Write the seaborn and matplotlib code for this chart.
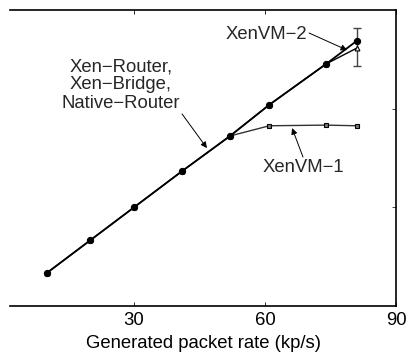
import matplotlib
matplotlib.use("Agg")
import matplotlib.pyplot as plt
import seaborn as sns
import numpy as np

# ---- data ----
rate = [10, 20, 30, 41, 52, 61, 74, 81]
native_y = [10, 20, 30, 41, 51.7, 61.2, 73.6, 80.6]
vm1_x = [52, 61, 74, 81]
vm1_y = [51.7, 54.8, 55.0, 54.8]
vm2_x = [10, 20, 30, 41, 52, 61, 74, 81]
vm2_y = [10, 20, 30, 41, 51.7, 61.2, 73.6, 78.4]
vm2_err_x = [81]
vm2_err_y = [78.7]
vm2_err = [5.8]
xticks = [30, 60, 90]
xlabel = "Generated packet rate (kp/s)"

sns.set_theme(style="white")
plt.rcParams['font.family'] = ['Liberation Sans', 'DejaVu Sans']

fig = plt.figure(figsize=(4.08, 3.56), dpi=100)
ax = fig.add_axes([10/408, 50/356, 386/408, 296/356])

# error bar for XenVM-2
ax.errorbar(vm2_err_x, vm2_err_y, yerr=vm2_err, fmt='none', ecolor='#444444',
            elinewidth=1.0, capsize=3, capthick=1.0, zorder=2)

sns.lineplot(x=vm1_x, y=vm1_y, ax=ax, color='#333333', lw=1.0, marker='s',
             markersize=3.5, markerfacecolor='#777777', markeredgecolor='black',
             markeredgewidth=0.8, zorder=3)
sns.lineplot(x=vm2_x, y=vm2_y, ax=ax, color='black', lw=1.0, marker='^',
             markersize=3.5, markerfacecolor='white', markeredgecolor='black',
             markeredgewidth=0.8, zorder=3)
sns.lineplot(x=rate, y=native_y, ax=ax, color='black', lw=1.3, marker='o',
             markersize=4.5, markerfacecolor='black', markeredgecolor='black',
             zorder=4)

ax.set_xlim(1.6, 90)
ax.set_ylim(0, 90)
ax.set_xticks(xticks)
ax.set_xticklabels([str(t) for t in xticks])
ax.set_yticks([30, 60])
ax.tick_params(axis='x', which='both', direction='in', length=3, width=0.6,
               top=True, bottom=True, labelsize=13.3, pad=4, colors='black')
ax.tick_params(axis='y', which='both', direction='in', length=3, width=0.6,
               left=False, right=True, labelleft=False, labelright=False)
for s in ['top', 'bottom', 'right']:
    ax.spines[s].set_visible(True)
    ax.spines[s].set_color('black')
    ax.spines[s].set_linewidth(1.2)
ax.spines['left'].set_visible(False)
ax.set_xlabel(xlabel, fontsize=13.3, labelpad=4.5, color='black')
ax.set_ylabel('')

fs = 13.3
ap = dict(arrowstyle='-|>', color='black', lw=0.7, mutation_scale=9,
          shrinkA=0, shrinkB=0)
ax.text(27.0, 67.2, "Xen\u2212Router,\nXen\u2212Bridge,\nNative\u2212Router",
        ha='center', va='center', fontsize=fs, linespacing=1.1)
ax.annotate('', xy=(46.7, 48.0), xytext=(41.0, 58.4), arrowprops=ap)
ax.text(60.2, 82.7, "XenVM\u22122", ha='center', va='center', fontsize=fs)
ax.annotate('', xy=(78.8, 77.8), xytext=(70.1, 83.0), arrowprops=ap)
ax.text(68.7, 42.2, "XenVM\u22121", ha='center', va='center', fontsize=fs)
ax.annotate('', xy=(66.2, 54.1), xytext=(68.7, 45.3), arrowprops=ap)

fig.savefig("out.png", dpi=100)
